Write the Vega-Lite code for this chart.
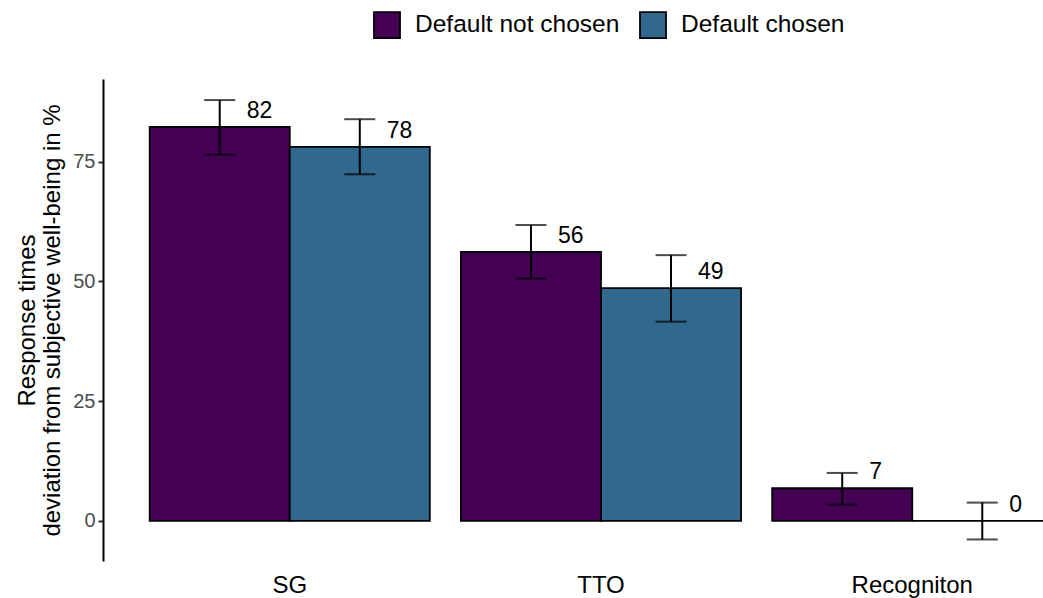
{
  "$schema": "https://vega.github.io/schema/vega-lite/v6.json",
  "width": 940,
  "height": 482,
  "autosize": {"type": "none"},
  "padding": {"left": 103, "top": 79, "right": 0, "bottom": 37},
  "background": "white",
  "config": {
    "font": "Liberation Sans",
    "view": {"stroke": null}
  },
  "data": {
    "values": [
      {"measure": "SG", "group": "Default not chosen", "value": 82.3, "lo": 76.5, "hi": 87.9},
      {"measure": "SG", "group": "Default chosen", "value": 78.1, "lo": 72.4, "hi": 83.9},
      {"measure": "TTO", "group": "Default not chosen", "value": 56.2, "lo": 50.6, "hi": 61.8},
      {"measure": "TTO", "group": "Default chosen", "value": 48.6, "lo": 41.6, "hi": 55.5},
      {"measure": "Recogniton", "group": "Default not chosen", "value": 6.8, "lo": 3.4, "hi": 10.0},
      {"measure": "Recogniton", "group": "Default chosen", "value": 0.0, "lo": -3.9, "hi": 3.8}
    ]
  },
  "encoding": {
    "x": {
      "field": "measure",
      "type": "nominal",
      "sort": ["SG", "TTO", "Recogniton"],
      "scale": {"range": [0, 996], "paddingInner": 0.1, "paddingOuter": 0.15},
      "axis": {
        "title": null,
        "domain": false,
        "ticks": false,
        "labelAngle": 0,
        "labelFontSize": 24,
        "labelColor": "black",
        "labelPadding": 12
      }
    },
    "xOffset": {
      "field": "group",
      "type": "nominal",
      "sort": ["Default not chosen", "Default chosen"],
      "scale": {"paddingInner": 0, "paddingOuter": 0}
    }
  },
  "layer": [
    {
      "mark": {"type": "bar", "stroke": "black", "strokeWidth": 1.8, "clip": true},
      "encoding": {
        "y": {
          "field": "value",
          "type": "quantitative",
          "scale": {"domain": [-8.4, 92.3], "nice": false, "zero": false},
          "axis": {
            "title": ["Response times", "deviation from subjective well-being in %"],
            "titleFontSize": 24,
            "titleFontWeight": "normal",
            "titleColor": "black",
            "titleLineHeight": 25,
            "titlePadding": 8,
            "values": [0, 25, 50, 75],
            "grid": false,
            "domainColor": "black",
            "domainWidth": 2,
            "tickColor": "#333333",
            "tickWidth": 2,
            "tickSize": 5,
            "labelFontSize": 20,
            "labelColor": "#4D4D4D",
            "labelPadding": 3
          }
        },
        "y2": {"datum": 0},
        "fill": {
          "field": "group",
          "type": "nominal",
          "sort": ["Default not chosen", "Default chosen"],
          "scale": {"range": ["#440154", "#31688E"]},
          "legend": {
            "title": null,
            "orient": "none",
            "direction": "horizontal",
            "legendX": 270,
            "legendY": -68,
            "symbolType": "square",
            "symbolSize": 676,
            "symbolStrokeColor": "black",
            "symbolStrokeWidth": 1.8,
            "symbolOpacity": 1,
            "labelFontSize": 24.5,
            "labelColor": "black",
            "labelOffset": 14,
            "columnPadding": 16,
            "labelLimit": 400
          }
        }
      }
    },
    {
      "mark": {"type": "rule", "color": "black", "strokeWidth": 2},
      "encoding": {
        "y": {"field": "lo", "type": "quantitative"},
        "y2": {"field": "hi"}
      }
    },
    {
      "mark": {"type": "tick", "color": "black", "thickness": 2, "size": 31, "orient": "horizontal"},
      "encoding": {
        "y": {"field": "lo", "type": "quantitative"}
      }
    },
    {
      "mark": {"type": "tick", "color": "black", "thickness": 2, "size": 31, "orient": "horizontal"},
      "encoding": {
        "y": {"field": "hi", "type": "quantitative"}
      }
    },
    {
      "mark": {"type": "text", "align": "left", "baseline": "middle", "dx": 27, "dy": -16, "fontSize": 23, "color": "black"},
      "encoding": {
        "y": {"field": "value", "type": "quantitative"},
        "text": {"field": "value", "type": "quantitative", "format": ".0f"}
      }
    }
  ]
}
